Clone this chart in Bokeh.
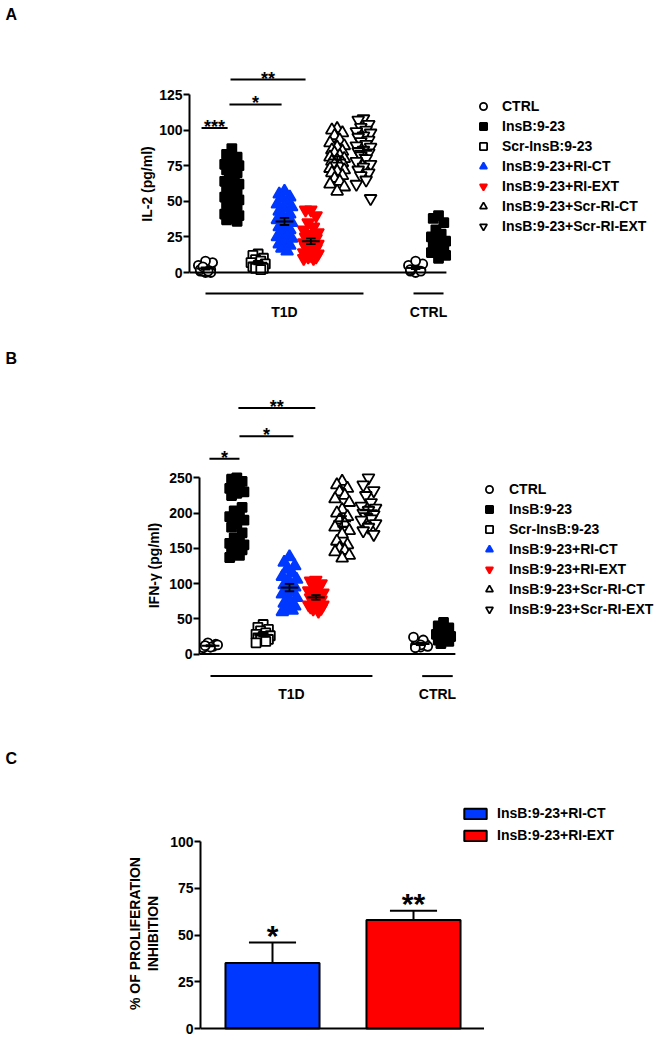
import numpy as np
from bokeh.plotting import figure
from bokeh.layouts import column, row
from bokeh.models import Range1d, FixedTicker, Legend, LegendItem
from bokeh.core.properties import value
from bokeh.embed import file_html
from bokeh.resources import INLINE

FONT = "Liberation Sans"
BLUE = "#0038ff"
RED = "#ff0000"

# ---------------- data ----------------
groups = ["CTRL", "InsB:9-23", "Scr-InsB:9-23", "InsB:9-23+RI-CT",
          "InsB:9-23+RI-EXT", "InsB:9-23+Scr-RI-CT", "InsB:9-23+Scr-RI-EXT"]
subject_labels = ["T1D", "CTRL"]
panel_letters = ["A", "B", "C"]
ylabel_A = ["IL-2 (pg/ml)"]
ylabel_B = ["IFN-γ (pg/ml)"]
ylabel_C = ["% OF PROLIFERATION", "INHIBITION"]

# Panel A: IL-2 (pg/ml), T1D subjects
il2_ctrl = [0, 1, 2, 1, 3, 5, 7, 8, 2, 0, 4, 1]
il2_insb = [87, 83, 81, 80, 78, 76, 75, 74, 72, 70, 68, 66, 64, 62, 60, 59, 58, 56, 55, 53,
            51, 50, 48, 47, 45, 43, 41, 40, 38, 37, 36]
il2_scr = [13, 12, 10, 9, 8, 7, 6, 5, 4, 3, 3, 2]
il2_rict = [57, 55, 53, 52, 50, 48, 46, 45, 43, 41, 40, 38, 37, 35, 33, 32, 30, 28, 27, 25,
            24, 22, 20, 19, 17, 15]
il2_riext = [44, 44, 40, 35, 32, 30, 28, 27, 25, 24, 23, 22, 21, 20, 19, 18, 17, 16, 15, 14,
             13, 12, 12, 11, 11, 10, 10]
il2_scr_rict = [101, 100, 98, 96, 93, 91, 89, 88, 86, 85, 84, 82, 81, 80, 79, 78, 77, 76, 75,
                73, 72, 71, 70, 68, 66, 64, 62, 60, 57]
il2_scr_riext = [108, 107, 104, 102, 100, 99, 98, 96, 95, 93, 92, 90, 89, 88, 86, 85, 84, 82,
                 80, 78, 76, 74, 72, 70, 68, 65, 62, 52]
# Panel A: CTRL subjects
il2_hc_ctrl = [0, 1, 2, 3, 4, 5, 6, 8, 2, 1]
il2_hc_insb = [40, 38, 35, 30, 27, 25, 22, 20, 19, 18, 17, 15, 14, 12, 10]

# Panel B: IFN-gamma (pg/ml), T1D subjects
ifn_ctrl = [10, 12, 14, 16, 11, 9, 13, 10, 12]
ifn_insb = [250, 248, 245, 243, 240, 235, 230, 228, 225, 208, 203, 200, 195, 190, 185, 180,
            172, 165, 160, 157, 155, 152, 150, 148, 145, 140, 137]
ifn_scr = [42, 38, 35, 33, 30, 28, 26, 25, 23, 21, 20, 18, 16]
ifn_rict = [138, 130, 125, 120, 115, 110, 106, 102, 98, 95, 92, 88, 85, 80, 76, 72, 68, 65,
            62, 60]
ifn_riext = [105, 104, 100, 97, 94, 90, 87, 84, 80, 77, 74, 72, 70, 70, 68, 67, 65, 64, 61]
ifn_scr_rict = [245, 240, 235, 230, 225, 220, 215, 205, 200, 195, 190, 185, 180, 175, 170,
                160, 155, 150, 147, 145, 140, 136]
ifn_scr_riext = [250, 240, 232, 225, 215, 210, 207, 204, 200, 198, 195, 192, 190, 185, 180,
                 175, 170]
# Panel B: CTRL subjects
ifn_hc_ctrl = [10, 12, 14, 16, 20, 24, 11, 13, 9]
ifn_hc_insb = [45, 40, 37, 34, 30, 28, 25, 22, 20, 18, 15]

# significance brackets (x from, x to, y, label)
sigA_x0 = [0.85, 1.91, 1.95]
sigA_x1 = [1.84, 3.89, 4.80]
sigA_y = [101.5, 118, 135.5]
sigA_txt = ["***", "*", "**"]
sigB_x0 = [0.96, 2.10, 2.06]
sigB_x1 = [2.10, 4.15, 4.98]
sigB_y = [277, 309, 349]
sigB_txt = ["*", "*", "**"]

# Panel C: % of proliferation inhibition
inhib_labels = ["InsB:9-23+RI-CT", "InsB:9-23+RI-EXT"]
inhib_mean = [35, 58]
inhib_sem = [11, 5]
inhib_sig = ["*", "**"]

# ---------------- styling ----------------
W = 664            # total page width used
T1D_POS = [1, 2, 3, 4, 5, 6, 7]
HC_POS = [8.98, 9.85]
SPACING = 26.33
PATTERN = [0.0, -0.2, 0.2, -0.1, 0.1, -0.27, 0.27]
SPECS = [("circle", "white", "black", 9),
         ("square", "black", "black", 9),
         ("square", "white", "black", 9),
         ("triangle", BLUE, BLUE, 12),
         ("inverted_triangle", RED, RED, 12),
         ("triangle", "white", "black", 12),
         ("inverted_triangle", "white", "black", 12)]


def offsets(n):
    return np.array([PATTERN[i % len(PATTERN)] for i in range(n)])


def draw_group(p, vals, pos, spec):
    m, fill, line, size = spec
    v = np.array(vals, float)
    return p.scatter(pos + offsets(len(v)), v, marker=m, size=size, fill_color=fill,
                     line_color=line, line_width=1.8)


def draw_mean_sem(p, vals, pos):
    v = np.array(vals, float)
    mean = v.mean()
    sem = v.std(ddof=1) / np.sqrt(len(v))
    p.segment([pos - 0.34], [mean], [pos + 0.34], [mean], line_color="black", line_width=2)
    p.segment([pos, pos - 0.18, pos - 0.18], [mean - sem, mean + sem, mean - sem],
              [pos, pos + 0.18, pos + 0.18], [mean + sem, mean + sem, mean - sem],
              line_color="black", line_width=1.8)


def style_yaxis(ax, ticks):
    ax.bounds = (ticks[0], ticks[-1])
    ax.ticker = FixedTicker(ticks=ticks)
    ax.minor_tick_line_color = None
    ax.major_tick_in = 0
    ax.major_tick_out = 6
    ax.major_tick_line_width = 2
    ax.axis_line_width = 2
    ax.axis_line_color = "black"
    ax.major_tick_line_color = "black"
    ax.major_label_standoff = 1
    ax.major_label_text_font = FONT
    ax.major_label_text_font_style = "bold"
    ax.major_label_text_font_size = "14px"
    ax.major_label_text_color = "black"


def base_fig(height, gutter, left_px, x0, x1, y0, y1):
    p = figure(width=W - gutter, height=height, x_range=Range1d(x0, x1),
               y_range=Range1d(y0, y1), x_axis_type=None, output_backend="svg",
               toolbar_location=None, min_border_left=left_px - gutter, min_border_right=0,
               min_border_top=0, min_border_bottom=0)
    p.outline_line_color = None
    p.grid.visible = False
    p.background_fill_color = "white"
    p.border_fill_color = "white"
    return p


def gutter_fig(gutter, height, page_top, txt, letter_top, labels, label_xs, label_cy):
    """Left strip holding the panel letter and the rotated y-axis title."""
    f = figure(width=gutter, height=height, x_range=Range1d(0, gutter),
               y_range=Range1d(0, height), x_axis_type=None, y_axis_type=None,
               output_backend="svg", toolbar_location=None, min_border=0)
    f.outline_line_color = None
    f.grid.visible = False
    f.text([5], [height - letter_top], text=[txt], text_align="left", text_baseline="top",
           text_font=value(FONT), text_font_style="bold", text_font_size="16px",
           text_color="black")
    ys = [height - (label_cy - page_top)] * len(labels)
    f.text(label_xs, ys, text=labels, angle=np.pi / 2, text_align="center",
           text_baseline="middle", text_font=value(FONT), text_font_style="bold",
           text_font_size="14px", text_color="black")
    return f


def dot_panel(height, page_top, gutter, left_px, zero_px, unit_px, first_px, ticks,
              t1d, hc, sx0, sx1, sy, stxt, axis_end, br_y, lab_y, t1d_br, hc_br, leg_x,
              leg_y, leg_standoff):
    x0 = 1 - (first_px - left_px) / SPACING
    x1 = 1 + (W - first_px) / SPACING
    y1 = (zero_px - page_top) / unit_px
    y0 = (zero_px - (page_top + height)) / unit_px
    p = base_fig(height, gutter, left_px, x0, x1, y0, y1)
    style_yaxis(p.yaxis[0], ticks)
    renderers = []
    for vals, pos, spec in zip(t1d, T1D_POS, SPECS):
        renderers.append(draw_group(p, vals, pos, spec))
    draw_group(p, hc[0], HC_POS[0], SPECS[0])
    draw_group(p, hc[1], HC_POS[1], SPECS[1])
    for vals, pos in zip(t1d, T1D_POS):
        draw_mean_sem(p, vals, pos)
    for vals, pos in zip(hc, HC_POS):
        draw_mean_sem(p, vals, pos)
    # x baseline
    p.segment([x0], [0], [axis_end], [0], line_color="black", line_width=2)
    # significance
    p.segment(sx0, sy, sx1, sy, line_color="black", line_width=2)
    p.text([(a + b) / 2 for a, b in zip(sx0, sx1)], sy, text=stxt, text_align="center",
           text_baseline="alphabetic", y_offset=-1, text_font=value(FONT),
           text_font_style="bold", text_font_size="18px", text_color="black")
    # subject group brackets
    p.segment([t1d_br[0], hc_br[0]], [br_y, br_y], [t1d_br[1], hc_br[1]], [br_y, br_y],
              line_color="black", line_width=2)
    p.text([(t1d_br[0] + t1d_br[1]) / 2, (hc_br[0] + hc_br[1]) / 2], [lab_y, lab_y],
           text=subject_labels, text_align="center", text_baseline="middle",
           text_font=value(FONT), text_font_style="bold", text_font_size="14px",
           text_color="black")
    legend = Legend(items=[LegendItem(label=g, renderers=[r]) for g, r in zip(groups, renderers)],
                    location=(leg_x, leg_y), glyph_width=18, glyph_height=20, label_height=20,
                    label_standoff=leg_standoff, spacing=0, padding=0, margin=0,
                    border_line_color=None, background_fill_alpha=0,
                    label_text_font=FONT, label_text_font_style="bold",
                    label_text_font_size="14px", label_text_color="black")
    p.add_layout(legend)
    return p


A_H, B_H, C_H = 348, 382, 306
A_G, B_G, C_G = 156, 162, 165

pA = dot_panel(height=A_H, page_top=0, gutter=A_G, left_px=189, zero_px=272, unit_px=1.424,
               first_px=205, ticks=[0, 25, 50, 75, 100, 125],
               t1d=[il2_ctrl, il2_insb, il2_scr, il2_rict, il2_riext, il2_scr_rict, il2_scr_riext],
               hc=[il2_hc_ctrl, il2_hc_insb], sx0=sigA_x0, sx1=sigA_x1, sy=sigA_y, stxt=sigA_txt,
               axis_end=10.15, br_y=-14.7, lab_y=-28, t1d_br=(1.0, 7.0), hc_br=(8.9, 10.04),
               leg_x=285, leg_y=112, leg_standoff=10)
gA = gutter_fig(A_G, A_H, 0, panel_letters[0], 5, ylabel_A, [146.5], 183.5)

pB = dot_panel(height=B_H, page_top=A_H, gutter=B_G, left_px=199, zero_px=653.6, unit_px=0.705,
               first_px=210, ticks=[0, 50, 100, 150, 200, 250],
               t1d=[ifn_ctrl, ifn_insb, ifn_scr, ifn_rict, ifn_riext, ifn_scr_rict, ifn_scr_riext],
               hc=[ifn_hc_ctrl, ifn_hc_insb], sx0=sigB_x0, sx1=sigB_x1, sy=sigB_y, stxt=sigB_txt,
               axis_end=10.3, br_y=-31.2, lab_y=-56.7, t1d_br=(1.0, 7.15), hc_br=(9.04, 10.2),
               leg_x=281, leg_y=111, leg_standoff=11)
gB = gutter_fig(B_G, B_H, A_H, panel_letters[1], 1, ylabel_B, [153], 565)

# ---------------- panel C ----------------
C_TOP, C_LEFT, C_ZERO, C_UNIT = A_H + B_H, 200, 1028, 1.87
cx = [1, 2]
cx0 = 1 - (272 - C_LEFT) / 141
cx1 = 2 + (W - 413) / 141
pC = base_fig(C_H, C_G, C_LEFT, cx0, cx1, (C_ZERO - (C_TOP + C_H)) / C_UNIT,
              (C_ZERO - C_TOP) / C_UNIT)
style_yaxis(pC.yaxis[0], [0, 25, 50, 75, 100])
bars = pC.vbar(x=cx, top=inhib_mean, bottom=0, width=0.667, fill_color=[BLUE, RED],
               line_color="black", line_width=2)
tops = [m + s for m, s in zip(inhib_mean, inhib_sem)]
pC.segment(cx, inhib_mean, cx, tops, line_color="black", line_width=2)
pC.segment([x - 0.167 for x in cx], tops, [x + 0.167 for x in cx], tops, line_color="black",
           line_width=2)
pC.text(cx, tops, text=inhib_sig, text_align="center", text_baseline="alphabetic", y_offset=-7,
        text_font=value(FONT), text_font_style="bold", text_font_size="30px", text_color="black")
pC.segment([cx0], [0], [2.5], [0], line_color="black", line_width=2)
legC = Legend(items=[LegendItem(label=l, renderers=[bars], index=i) for i, l in enumerate(inhib_labels)],
              location=(261, 193), glyph_width=28, glyph_height=13, label_height=13,
              label_standoff=8, spacing=6, padding=0, margin=0, border_line_color=None,
              background_fill_alpha=0, label_text_font=FONT, label_text_font_style="bold",
              label_text_font_size="14px", label_text_color="black")
pC.add_layout(legC)
gC = gutter_fig(C_G, C_H, C_TOP, panel_letters[2], 19, ylabel_C, [134, 152.5], 933)

layout = column(row(gA, pA, spacing=0), row(gB, pB, spacing=0), row(gC, pC, spacing=0),
                spacing=0)
open("out.html", "w").write(file_html(layout, INLINE))
